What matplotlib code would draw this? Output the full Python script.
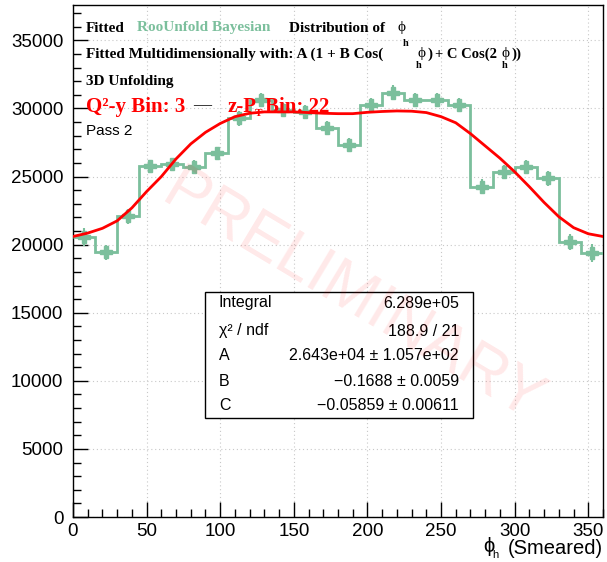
import numpy as np
import matplotlib.pyplot as plt
from matplotlib.ticker import MultipleLocator
from matplotlib.patches import Rectangle

# Data
######################################
phi_edges = list(range(0, 361, 15))
counts = [20580, 19430, 22100, 25770, 25900, 25720, 26700, 29270,
          30620, 29900, 29760, 28550, 27310, 30250, 31150, 30620,
          30620, 30250, 24250, 25350, 25680, 24870, 20210, 19400]
count_err = [650, 560, 550, 480, 480, 480, 500, 520,
             540, 520, 520, 520, 520, 540, 560, 540,
             540, 540, 560, 520, 520, 540, 600, 680]

fit_phi = list(range(0, 361, 10))
fit_vals = [20600, 20850, 21200, 21750, 22700, 23900, 25000, 26300, 27400, 28250,
            28900, 29400, 29650, 29750, 29750, 29750, 29700, 29650, 29620, 29620,
            29720, 29780, 29820, 29800, 29700, 29400, 28950, 28150, 27250, 26350,
            25350, 24250, 23100, 22050, 21250, 20800, 20600]

stat_names = ["Integral", "χ² / ndf", "A", "B", "C"]
stat_values = ["6.289e+05", "188.9 / 21", "2.643e+04 ± 1.057e+02",
               "\u22120.1688 ± 0.0059", "\u22120.05859 ± 0.00611"]
######################################

green = '#7bbf9c'
red = '#ff0000'
serif = ['Liberation Serif', 'DejaVu Serif']
sans = ['Liberation Sans', 'DejaVu Sans']

W, H = 607, 562
fig = plt.figure(figsize=(W / 100, H / 100), dpi=100)
ax = fig.add_axes([73 / W, 1 - 517 / H, (603 - 73) / W, (517 - 5) / H])

edges = np.array(phi_edges)
centers = 0.5 * (edges[:-1] + edges[1:])

ax.stairs(counts, edges, color=green, lw=2, baseline=None, zorder=3)
ax.errorbar(centers, counts, yerr=count_err, fmt='P', color=green, ms=8.5,
            elinewidth=1.5, capsize=0, zorder=4)
ax.plot(fit_phi, fit_vals, color=red, lw=2, zorder=5)

ax.set_xlim(0, 360)
ax.set_ylim(0, 37600)
ax.xaxis.set_major_locator(MultipleLocator(50))
ax.xaxis.set_minor_locator(MultipleLocator(10))
ax.yaxis.set_major_locator(MultipleLocator(5000))
ax.yaxis.set_minor_locator(MultipleLocator(1000))
ax.tick_params(which='both', direction='in', top=False, right=False, width=1, color='black')
ax.tick_params(which='major', length=11)
ax.tick_params(which='minor', length=5.5)
ax.tick_params(axis='y', which='major', pad=7)
ax.tick_params(axis='x', which='major', pad=4)
for lab in ax.get_xticklabels() + ax.get_yticklabels():
    lab.set_fontfamily(sans)
    lab.set_fontsize(13.5)
ax.grid(True, which='major', ls=(0, (1, 2.5)), color='#c8c8c8', lw=0.8)
ax.set_axisbelow(True)
for sp in ax.spines.values():
    sp.set_linewidth(1)
    sp.set_color('black')


def px(x, y):
    return (x / W, 1 - y / H)


def put(x, y, s, **kw):
    fig.text(*px(x, y), s, va='center', **kw)


# header lines
put(86, 28, "Fitted", family=serif, weight='bold', fontsize=11)
put(137, 28, "RooUnfold Bayesian", family=serif, weight='bold', fontsize=11, color=green)
put(289, 28, "Distribution of", family=serif, weight='bold', fontsize=11)
put(402, 28, "ϕ", family=serif, fontsize=11, ha='center')
put(406, 43, "h", family=serif, weight='bold', fontsize=7.5, ha='center')

put(86, 54, "Fitted Multidimensionally with: A (1 + B Cos(", family=serif, weight='bold', fontsize=11)
put(422, 53, "ϕ", family=serif, fontsize=11, ha='center')
put(419, 66, "h", family=serif, weight='bold', fontsize=7.5, ha='center')
put(428, 54, ")", family=serif, weight='bold', fontsize=11)
put(435, 54, "+ C Cos(2", family=serif, weight='bold', fontsize=10.5)
put(505, 53, "ϕ", family=serif, fontsize=11, ha='center')
put(505, 66, "h", family=serif, weight='bold', fontsize=7.5, ha='center')
put(511, 54, "))", family=serif, weight='bold', fontsize=11)

put(86, 81, "3D Unfolding", family=serif, weight='bold', fontsize=11)

put(86, 107, "Q²-y Bin: 3", family=serif, weight='bold', fontsize=15, color=red, zorder=10)
put(193, 106, "—", family=serif, fontsize=13, color='black')
put(228, 107, "z-P", family=serif, weight='bold', fontsize=15, color=red, zorder=10)
put(259, 113, "T", family=serif, weight='bold', fontsize=8, color=red, ha='center', zorder=10)
put(265, 107, "Bin: 22", family=serif, weight='bold', fontsize=15, color=red, zorder=10)

put(86, 131, "Pass 2", family=sans, fontsize=11)

# x axis title
put(603, 548, "(Smeared)", family=sans, fontsize=14.5, ha='right')
put(489, 546, "ϕ", family=sans, fontsize=14.5, ha='center')
put(495, 555, "h", family=sans, fontsize=8, ha='center')

# stats box
x0, y0 = px(205, 418)
x1, y1 = px(473, 292)
fig.patches.append(Rectangle((x0, y0), x1 - x0, y1 - y0, transform=fig.transFigure,
                             facecolor='white', edgecolor='black', lw=1, zorder=6))
row_y = [303, 331, 355, 381, 406]
for name, val, yy in zip(stat_names, stat_values, row_y):
    put(219, yy, name, family=sans, fontsize=11.5, zorder=7)
    put(459, yy, val, family=sans, fontsize=11.5, ha='right', zorder=7)

# watermark
fig.text(*px(352, 298), "PRELIMINARY", family=sans, fontsize=46, color=red, alpha=0.09,
         rotation=-31, ha='center', va='center', rotation_mode='anchor', zorder=20)

fig.savefig('out.png', dpi=100)
